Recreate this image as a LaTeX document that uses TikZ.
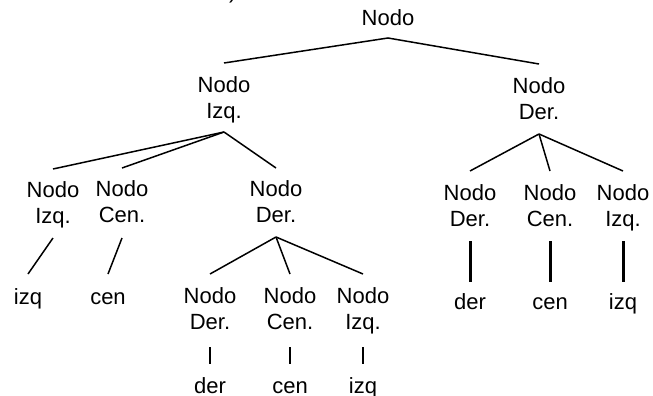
\documentclass[tikz,border=0pt]{standalone}
\usepackage{fontspec}
\setmainfont{Liberation Sans}
\tikzset{
  nd/.style={font=\fontsize{22}{26}\selectfont, align=center, inner sep=0pt, outer sep=0pt, anchor=north},
  lf/.style={font=\fontsize{22}{26}\selectfont, inner sep=0pt, outer sep=0pt, anchor=base},
  edg/.style={line width=1.5pt},
  thinedg/.style={line width=1.2pt},
  thickedg/.style={line width=3pt}
}
\begin{document}
\begin{tikzpicture}[x=1pt,y=-1pt]
\useasboundingbox (0,0) rectangle (653,396);
\clip (0,0) rectangle (653,396);
\node[lf, anchor=base west] (frag) at (229,-1) {)};
% nodes
\node[nd] (r) at (388,10) {Nodo};
\node[nd] (a) at (224,77) {Nodo\\Izq.};
\node[nd] (b) at (539,78) {Nodo\\Der.};
\node[nd] (aa) at (53,182) {Nodo\\Izq.};
\node[nd] (ab) at (122,181) {Nodo\\Cen.};
\node[nd] (ac) at (276,181) {Nodo\\Der.};
\node[nd] (ba) at (470,185) {Nodo\\Der.};
\node[nd] (bb) at (550,185) {Nodo\\Cen.};
\node[nd] (bc) at (623,185) {Nodo\\Izq.};
\node[nd] (aca) at (210,288) {Nodo\\Der.};
\node[nd] (acb) at (290,288) {Nodo\\Cen.};
\node[nd] (acc) at (363,288) {Nodo\\Izq.};
% leaves
\node[lf] (l1) at (28,304) {izq};
\node[lf] (l2) at (108,304) {cen};
\node[lf] (l3) at (470,309) {der};
\node[lf] (l4) at (550,309) {cen};
\node[lf] (l5) at (623,309) {izq};
\node[lf] (l6) at (210,393) {der};
\node[lf] (l7) at (290,393) {cen};
\node[lf] (l8) at (363,393) {izq};
% edges
\draw[edg] ([yshift=14pt]a.north) -- ([yshift=-28pt]r.north) -- ([yshift=14pt]b.north);
\draw[edg] ([yshift=13pt]aa.north) -- ([yshift=-55pt]a.north);
\draw[edg] ([yshift=13pt]ab.north) -- ([yshift=-55pt]a.north);
\draw[edg] ([yshift=13pt]ac.north) -- ([yshift=-55pt]a.north);
\draw[edg] ([yshift=-56pt]b.north) -- ([yshift=14pt]ba.north);
\draw[edg] ([yshift=-56pt]b.north) -- ([yshift=14pt]bb.north);
\draw[edg] ([yshift=-56pt]b.north) -- ([yshift=14pt]bc.north);
\draw[edg] ([yshift=-56pt]aa.north) -- ([yshift=30pt]l1.base);
\draw[edg] ([yshift=-57pt]ab.north) -- ([yshift=30pt]l2.base);
\draw[edg] ([yshift=-56pt]ac.north) -- ([yshift=14pt]aca.north);
\draw[edg] ([yshift=-56pt]ac.north) -- ([yshift=14pt]acb.north);
\draw[edg] ([yshift=-56pt]ac.north) -- ([yshift=14pt]acc.north);
\draw[thinedg] ([yshift=-59pt]aca.north) -- ([yshift=29pt]l6.base);
\draw[thinedg] ([yshift=-59pt]acb.north) -- ([yshift=29pt]l7.base);
\draw[thinedg] ([yshift=-59pt]acc.north) -- ([yshift=29pt]l8.base);
\draw[thickedg] ([yshift=-56pt]ba.north) -- ([yshift=27pt]l3.base);
\draw[thickedg] ([yshift=-56pt]bb.north) -- ([yshift=27pt]l4.base);
\draw[thickedg] ([yshift=-56pt]bc.north) -- ([yshift=27pt]l5.base);
\end{tikzpicture}
\end{document}
